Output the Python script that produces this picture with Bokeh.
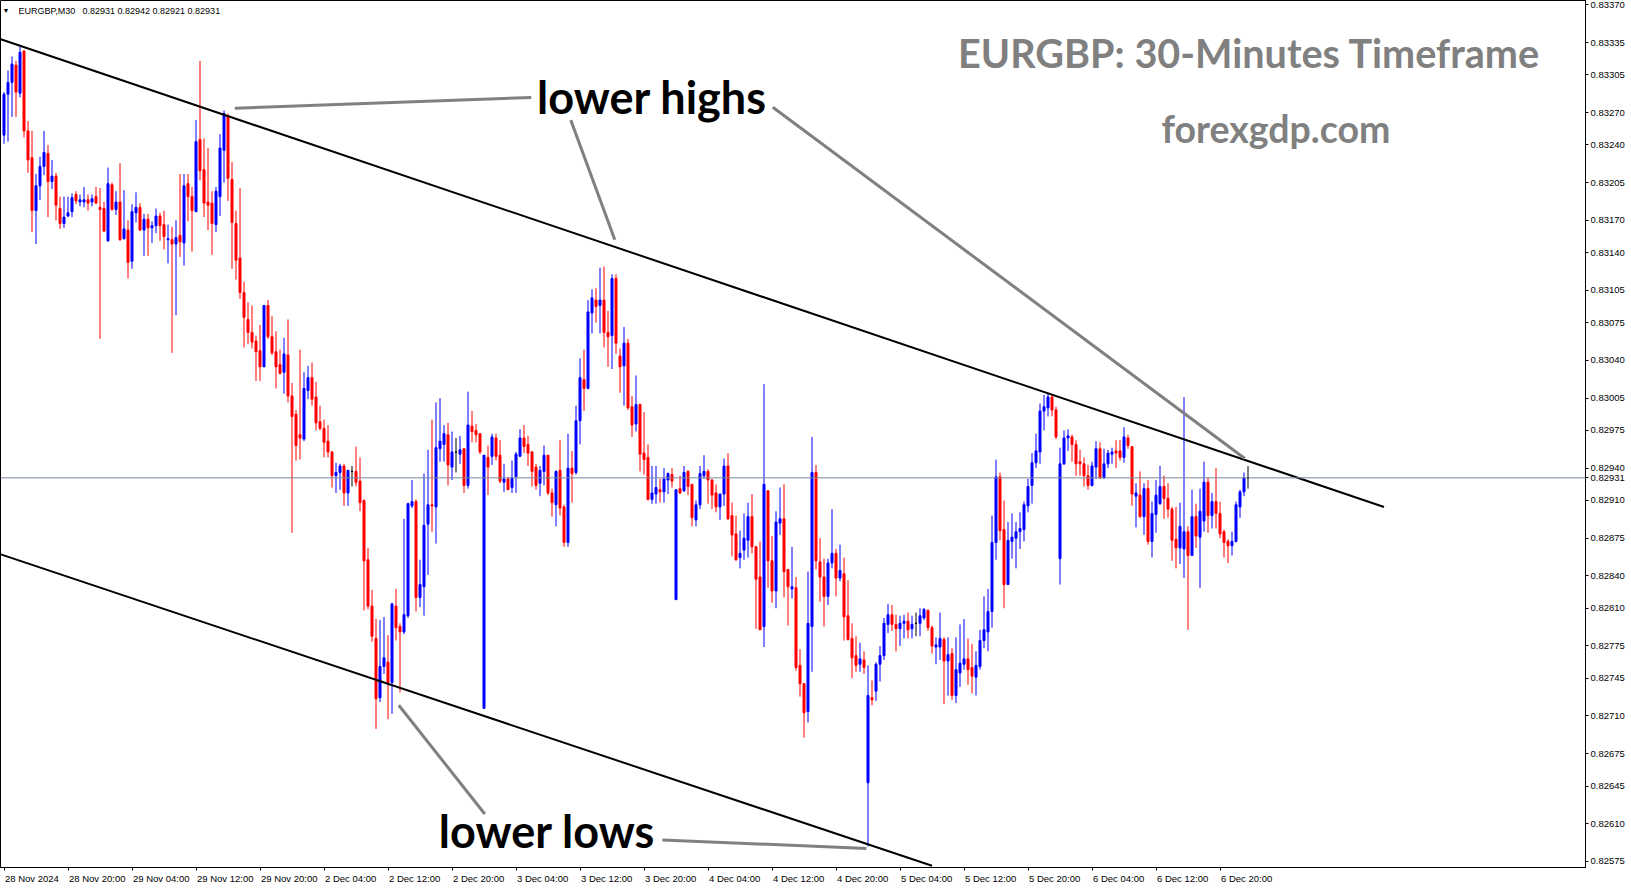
from bokeh.plotting import figure
from bokeh.models import Range1d, FixedTicker, Label, Span, ColumnDataSource, PrintfTickFormatter
from bokeh.embed import file_html
from bokeh.resources import INLINE

SYMBOL = "EURGBP,M30"
PRICE_UNIT = 1e-5  # values below are in 0.00001 units

OPEN = [
    83249, 83287, 83298, 83314, 83288, 83327, 83253, 83228, 83179, 83202,
    83220, 83232, 83206, 83211, 83181, 83167, 83174, 83178, 83194, 83187,
    83187, 83189, 83187, 83192, 83182, 83181, 83151, 83203, 83180, 83187,
    83153, 83161, 83132, 83177, 83182, 83161, 83171, 83163, 83165, 83174,
    83166, 83152, 83152, 83148, 83156, 83149, 83204, 83192, 83178, 83245,
    83217, 83187, 83186, 83166, 83192, 83235, 83267, 83208, 83167, 83135,
    83103, 83078, 83066, 83058, 83049, 83034, 83091, 83062, 83048, 83036,
    83029, 83045, 83007, 82990, 82971, 82967, 83012, 83024, 83006, 82983,
    82977, 82965, 82955, 82933, 82936, 82942, 82917, 82937, 82937, 82928,
    82910, 82855, 82812, 82782, 82727, 82756, 82760, 82741, 82812, 82793,
    82788, 82803, 82905, 82909, 82820, 82830, 82888, 82906, 82904, 82958,
    82962, 82971, 82941, 82955, 82953, 82958, 82924, 82979, 82975, 82972,
    82717, 82950, 82951, 82968, 82952, 82927, 82930, 82922, 82932, 82951,
    82968, 82962, 82955, 82941, 82926, 82937, 82952, 82917, 82906, 82938,
    82904, 82871, 82940, 82936, 82984, 83022, 83014, 83084, 83096, 83091,
    83096, 83066, 83063, 83116, 83044, 83035, 83056, 82997, 82981, 82999,
    82954, 82950, 82911, 82916, 82920, 82918, 82929, 82934, 82818, 82921,
    82919, 82937, 82925, 82892, 82906, 82933, 82937, 82929, 82917, 82904,
    82916, 82942, 82896, 82879, 82857, 82864, 82873, 82895, 82867, 82839,
    82793, 82919, 82854, 82826, 82889, 82893, 82846, 82828, 82829, 82757,
    82740, 82714, 82793, 82936, 82853, 82839, 82821, 82852, 82861, 82838,
    82842, 82803, 82782, 82766, 82758, 82762, 82648, 82727, 82733, 82758,
    82766, 82795, 82804, 82795, 82791, 82796, 82798, 82791, 82796, 82796,
    82801, 82808, 82792, 82774, 82774, 82781, 82761, 82768, 82729, 82750,
    82758, 82763, 82755, 82746, 82756, 82780, 82788, 82807, 82871, 82932,
    82883, 82832, 82872, 82875, 82881, 82883, 82905, 82924, 82945, 82955,
    82993, 82996, 83006, 82994, 82856, 82944, 82968, 82969, 82962, 82946,
    82944, 82933, 82924, 82941, 82958, 82931, 82944, 82953, 82956, 82956,
    82950, 82968, 82960, 82914, 82915, 82895, 82921, 82872, 82897, 82907,
    82923, 82912, 82902, 82874, 82866, 82865, 82881, 82859, 82895, 82876,
    82891, 82927, 82896, 82909, 82898, 82881, 82872, 82868, 82872, 82904,
    82918, 82931,
]
HIGH = [
    83289, 83309, 83322, 83318, 83331, 83328, 83262, 83253, 83213, 83229,
    83253, 83240, 83226, 83214, 83192, 83192, 83192, 83195, 83197, 83194,
    83201, 83194, 83194, 83201, 83200, 83187, 83219, 83205, 83197, 83223,
    83198, 83170, 83185, 83196, 83186, 83176, 83176, 83169, 83181, 83177,
    83179, 83166, 83164, 83170, 83213, 83213, 83213, 83201, 83263, 83318,
    83246, 83237, 83197, 83201, 83250, 83272, 83269, 83224, 83179, 83200,
    83113, 83094, 83091, 83063, 83073, 83091, 83096, 83081, 83067, 83050,
    83061, 83078, 83019, 82994, 83050, 83029, 83035, 83038, 83020, 82998,
    82985, 82980, 82956, 82945, 82944, 82944, 82938, 82942, 82960, 82950,
    82911, 82866, 82827, 82800, 82799, 82802, 82785, 82815, 82828, 82796,
    82893, 82908, 82929, 82911, 82855, 82935, 82957, 82985, 83001, 83005,
    82980, 82982, 82974, 82968, 82970, 82958, 83011, 82993, 82981, 82972,
    82952, 82961, 82972, 82972, 82966, 82944, 82932, 82947, 82955, 82976,
    82980, 82970, 82956, 82944, 82942, 82961, 82952, 82921, 82938, 82966,
    82906, 82972, 82956, 82998, 83042, 83050, 83096, 83106, 83107, 83126,
    83127, 83086, 83120, 83120, 83051, 83071, 83060, 83007, 83026, 83000,
    82992, 82962, 82942, 82942, 82930, 82940, 82936, 82940, 82920, 82933,
    82942, 82938, 82925, 82910, 82942, 82952, 82939, 82930, 82925, 82916,
    82949, 82954, 82908, 82896, 82882, 82898, 82908, 82916, 82868, 82872,
    83018, 82919, 82877, 82900, 82922, 82925, 82846, 82867, 82839, 82772,
    82740, 82844, 82969, 82943, 82875, 82856, 82856, 82902, 82865, 82869,
    82857, 82836, 82796, 82784, 82778, 82770, 82757, 82743, 82760, 82775,
    82801, 82814, 82813, 82804, 82803, 82804, 82806, 82803, 82806, 82810,
    82810, 82809, 82794, 82783, 82806, 82783, 82783, 82773, 82783, 82795,
    82800, 82782, 82777, 82770, 82790, 82821, 82828, 82896, 82948, 82936,
    82910, 82890, 82898, 82890, 82899, 82909, 82930, 82954, 82972, 83000,
    83008, 83010, 83008, 82997, 82959, 82975, 82976, 82971, 82966, 82957,
    82950, 82943, 82946, 82965, 82964, 82958, 82957, 82959, 82966, 82966,
    82978, 82971, 82960, 82926, 82937, 82926, 82929, 82909, 82929, 82942,
    82933, 82926, 82904, 82904, 82908, 83006, 82886, 82920, 82907, 82921,
    82946, 82931, 82917, 82940, 82909, 82883, 82874, 82881, 82909, 82920,
    82936, 82942,
]
LOW = [
    83241, 83243, 83266, 83266, 83284, 83247, 83214, 83159, 83148, 83189,
    83212, 83173, 83199, 83170, 83162, 83163, 83173, 83173, 83185, 83183,
    83182, 83179, 83183, 83185, 83060, 83159, 83150, 83179, 83175, 83151,
    83152, 83116, 83125, 83168, 83160, 83137, 83137, 83149, 83158, 83151,
    83143, 83130, 83047, 83082, 83136, 83128, 83169, 83141, 83178, 83207,
    83173, 83161, 83138, 83159, 83174, 83205, 83188, 83125, 83115, 83097,
    83052, 83055, 83051, 83021, 83021, 83034, 83060, 83045, 83014, 83027,
    83009, 83001, 82880, 82947, 82948, 82965, 83004, 82998, 82975, 82975,
    82950, 82950, 82922, 82917, 82920, 82905, 82905, 82923, 82923, 82900,
    82808, 82809, 82779, 82698, 82723, 82749, 82707, 82712, 82780, 82732,
    82786, 82801, 82903, 82807, 82811, 82803, 82841, 82881, 82870, 82946,
    82946, 82924, 82929, 82936, 82944, 82917, 82921, 82964, 82964, 82953,
    82717, 82915, 82943, 82947, 82926, 82918, 82920, 82917, 82917, 82951,
    82954, 82942, 82923, 82920, 82914, 82924, 82915, 82895, 82886, 82896,
    82867, 82867, 82908, 82934, 82962, 82993, 83013, 83065, 83075, 83065,
    83052, 83034, 83032, 83046, 83010, 82998, 82994, 82969, 82974, 82937,
    82934, 82910, 82907, 82907, 82908, 82908, 82916, 82922, 82818, 82916,
    82918, 82915, 82886, 82886, 82902, 82930, 82907, 82902, 82899, 82892,
    82905, 82892, 82858, 82854, 82847, 82855, 82857, 82861, 82791, 82790,
    82774, 82829, 82815, 82810, 82878, 82820, 82794, 82819, 82752, 82728,
    82690, 82704, 82751, 82846, 82816, 82793, 82813, 82847, 82821, 82835,
    82780, 82780, 82745, 82751, 82751, 82749, 82589, 82720, 82724, 82742,
    82762, 82787, 82789, 82770, 82775, 82782, 82782, 82782, 82784, 82784,
    82799, 82789, 82768, 82758, 82762, 82721, 82729, 82725, 82722, 82737,
    82753, 82739, 82731, 82729, 82753, 82773, 82770, 82792, 82855, 82873,
    82810, 82832, 82856, 82847, 82865, 82872, 82899, 82907, 82940, 82944,
    82975, 82988, 82988, 82967, 82832, 82943, 82956, 82946, 82933, 82933,
    82923, 82920, 82923, 82930, 82930, 82930, 82940, 82944, 82940, 82947,
    82945, 82958, 82905, 82885, 82894, 82878, 82869, 82857, 82880, 82906,
    82893, 82894, 82854, 82847, 82851, 82838, 82790, 82859, 82866, 82829,
    82881, 82880, 82884, 82884, 82875, 82857, 82852, 82859, 82871, 82894,
    82914, 82921,
]
CLOSE = [
    83287, 83298, 83315, 83289, 83326, 83253, 83226, 83179, 83202, 83220,
    83233, 83206, 83211, 83184, 83167, 83173, 83177, 83191, 83188, 83189,
    83189, 83186, 83190, 83186, 83180, 83160, 83204, 83180, 83187, 83152,
    83162, 83131, 83178, 83182, 83161, 83171, 83163, 83165, 83174, 83165,
    83155, 83153, 83148, 83154, 83150, 83202, 83192, 83179, 83243, 83216,
    83186, 83184, 83167, 83197, 83237, 83269, 83209, 83168, 83133, 83103,
    83080, 83066, 83057, 83048, 83034, 83091, 83062, 83047, 83034, 83028,
    83046, 83007, 82988, 82961, 82968, 83014, 83024, 83004, 82982, 82977,
    82964, 82955, 82933, 82936, 82942, 82917, 82938, 82937, 82927, 82908,
    82854, 82812, 82784, 82726, 82756, 82764, 82741, 82814, 82792, 82788,
    82804, 82907, 82909, 82820, 82832, 82887, 82906, 82905, 82959, 82965,
    82972, 82943, 82955, 82955, 82957, 82924, 82980, 82974, 82971, 82955,
    82952, 82941, 82969, 82951, 82928, 82930, 82920, 82931, 82953, 82968,
    82960, 82954, 82937, 82924, 82938, 82952, 82917, 82908, 82937, 82903,
    82871, 82940, 82935, 82984, 83024, 83014, 83085, 83098, 83090, 83096,
    83066, 83062, 83116, 83056, 83034, 83056, 82996, 82980, 82999, 82953,
    82948, 82911, 82917, 82922, 82918, 82930, 82935, 82928, 82920, 82917,
    82936, 82923, 82894, 82906, 82935, 82937, 82929, 82915, 82904, 82916,
    82942, 82893, 82878, 82855, 82861, 82875, 82895, 82867, 82837, 82790,
    82925, 82854, 82826, 82890, 82893, 82844, 82830, 82830, 82755, 82740,
    82713, 82796, 82936, 82854, 82839, 82821, 82852, 82861, 82838, 82845,
    82802, 82781, 82764, 82757, 82763, 82755, 82729, 82725, 82758, 82766,
    82796, 82804, 82795, 82791, 82796, 82798, 82790, 82795, 82796, 82803,
    82809, 82792, 82775, 82776, 82782, 82761, 82767, 82729, 82753, 82759,
    82763, 82753, 82747, 82757, 82780, 82790, 82807, 82871, 82932, 82882,
    82832, 82873, 82876, 82881, 82884, 82906, 82923, 82945, 82956, 82993,
    82997, 83006, 82994, 82969, 82944, 82968, 82970, 82962, 82944, 82944,
    82933, 82924, 82942, 82958, 82931, 82944, 82954, 82955, 82954, 82950,
    82969, 82961, 82916, 82917, 82895, 82921, 82872, 82898, 82915, 82923,
    82912, 82902, 82873, 82866, 82886, 82881, 82859, 82895, 82877, 82900,
    82927, 82896, 82909, 82898, 82879, 82871, 82868, 82872, 82906, 82918,
    82931, 82931,
]

# time axis: bar index of each label (30-minute bars, 16 bars = 8 hours)
TIME_TICKS = [0, 16, 32, 48, 64, 80, 96, 112, 128, 144, 160,
              176, 192, 208, 224, 240, 256, 272, 288, 304]
TIME_LABELS = ["28 Nov 2024", "28 Nov 20:00", "29 Nov 04:00", "29 Nov 12:00", "29 Nov 20:00",
               "2 Dec 04:00", "2 Dec 12:00", "2 Dec 20:00", "3 Dec 04:00",
               "3 Dec 12:00", "3 Dec 20:00", "4 Dec 04:00", "4 Dec 12:00",
               "4 Dec 20:00", "5 Dec 04:00", "5 Dec 12:00", "5 Dec 20:00",
               "6 Dec 04:00", "6 Dec 12:00", "6 Dec 20:00"]
PRICE_TICKS = [0.83370, 0.83335, 0.83305, 0.83270, 0.83240, 0.83205, 0.83170,
               0.83140, 0.83105, 0.83075, 0.83040, 0.83005, 0.82975, 0.82940,
               0.82910, 0.82875, 0.82840, 0.82810, 0.82775, 0.82745, 0.82710,
               0.82675, 0.82645, 0.82610, 0.82575]

# drawn analysis objects, anchored at (bar index, price)
UPPER_TREND_BAR = [-0.8, 345.0]
UPPER_TREND_PRICE = [0.83338, 0.82904]
LOWER_TREND_BAR = [-0.8, 232.0]
LOWER_TREND_PRICE = [0.82860, 0.82571]
POINTER_BARS = [[57.7, 131.8], [141.7, 152.7], [192.2, 310.2], [98.7, 120.2], [164.6, 215.6]]
POINTER_PRICES = [[0.83274, 0.83284], [0.83263, 0.83152], [0.83275, 0.82949],
                  [0.82720, 0.82619], [0.82595, 0.82587]]

TITLE = "EURGBP: 30-Minutes Timeframe"
SITE = "forexgdp.com"
NOTE_HIGHS = "lower highs"
NOTE_LOWS = "lower lows"

# ---------------- layout ----------------
W, H = 1631, 888
RIGHT_BORDER, BOTTOM_BORDER = 46, 21
BAR_PX = 4.0
FRAME_W = W - RIGHT_BORDER
FRAME_H = H - BOTTOM_BORDER
X_START = -0.875
X_END = X_START + FRAME_W / BAR_PX
Y_START, Y_END = 0.825694, 0.833740

BULL, BEAR, DOJI = "#0000ff", "#ff0000", "#000000"
AXIS_FONT = "Liberation Sans"
AXIS_FONT_PX = 9.5

# Arial / Liberation Sans advance widths (1/1000 em) for the time-label characters
ADV = {ch: 556 for ch in "0123456789"}
ADV.update({" ": 278, ":": 278, "N": 722, "o": 556, "v": 500, "D": 722, "e": 556, "c": 500})


def text_px(s):
    return sum(ADV.get(ch, 556) for ch in s) / 1000.0 * AXIS_FONT_PX


idx = list(range(len(OPEN)))
o = [v * PRICE_UNIT for v in OPEN]
h = [v * PRICE_UNIT for v in HIGH]
l = [v * PRICE_UNIT for v in LOW]
c = [v * PRICE_UNIT for v in CLOSE]
col = [BULL if cc > oo else (BEAR if cc < oo else DOJI) for oo, cc in zip(OPEN, CLOSE)]
last_price = round(c[-1], 5)

src = ColumnDataSource(dict(
    x=idx, high=h, low=l,
    top=[max(a, b) for a, b in zip(o, c)],
    bottom=[min(a, b) for a, b in zip(o, c)],
    color=col,
))

p = figure(width=W, height=H, output_backend="svg", toolbar_location=None,
           x_range=Range1d(X_START, X_END), y_range=Range1d(Y_START, Y_END),
           x_axis_location="below", y_axis_location="right",
           min_border_left=0, min_border_top=0,
           min_border_right=RIGHT_BORDER, min_border_bottom=BOTTOM_BORDER)
p.background_fill_color = "white"
p.border_fill_color = "white"
p.outline_line_color = "black"
p.outline_line_width = 1
p.xgrid.visible = False
p.ygrid.visible = False

p.segment(x0="x", y0="low", x1="x", y1="high", line_color="color", line_width=1, source=src)
p.vbar(x="x", width=0.5, top="top", bottom="bottom", fill_color="color",
       line_color="color", line_width=1, source=src)

p.add_layout(Span(location=last_price, dimension="width", line_color="#778899", line_width=1))

p.line(UPPER_TREND_BAR, UPPER_TREND_PRICE, line_color="black", line_width=2)
p.line(LOWER_TREND_BAR, LOWER_TREND_PRICE, line_color="black", line_width=2)
p.multi_line(POINTER_BARS, POINTER_PRICES, line_color="#808080", line_width=3)

# x axis: tick marks at the bar of each label, labels drawn starting at the mark
label_centers = [round(t + (text_px(s) / 2 + 1) / BAR_PX, 4) for t, s in zip(TIME_TICKS, TIME_LABELS)]
xa = p.xaxis[0]
xa.ticker = FixedTicker(ticks=label_centers, minor_ticks=TIME_TICKS)
xa.major_label_overrides = {cx: s for cx, s in zip(label_centers, TIME_LABELS)}
xa.major_tick_out = 3
xa.major_tick_in = 0
xa.major_tick_line_color = None
xa.minor_tick_out = 3
xa.minor_tick_in = 0
xa.minor_tick_line_color = "black"
xa.axis_line_color = "black"
xa.major_label_standoff = 2
xa.major_label_text_font = AXIS_FONT
xa.major_label_text_font_size = f"{AXIS_FONT_PX}px"
xa.major_label_text_color = "black"

# y axis: price scale plus the current price
ya = p.yaxis[0]
ya.ticker = FixedTicker(ticks=PRICE_TICKS + [last_price])
ya.formatter = PrintfTickFormatter(format="%.5f")
ya.major_tick_out = 3
ya.major_tick_in = 0
ya.minor_tick_line_color = None
ya.axis_line_color = "black"
ya.major_tick_line_color = "black"
ya.major_label_standoff = 2
ya.major_label_text_font = AXIS_FONT
ya.major_label_text_font_size = f"{AXIS_FONT_PX}px"
ya.major_label_text_color = "black"


def frame_label(px, py, text, **kw):
    # px: pixels from the frame's left edge; py: pixels from the frame's top edge
    return Label(x=px, y=FRAME_H - py, x_units="screen", y_units="screen", text=text, **kw)


# header line
p.add_layout(frame_label(2, 10, "\u25bc", text_font_size="7px", text_color="black",
                         text_baseline="middle"))
p.add_layout(frame_label(18, 10, SYMBOL, text_font=AXIS_FONT, text_font_size="9px",
                         text_color="black", text_baseline="middle"))
p.add_layout(frame_label(82, 10, f"{o[-1]:.5f} {h[-1]:.5f} {l[-1]:.5f} {c[-1]:.5f}",
                         text_font=AXIS_FONT, text_font_size="9px", text_color="black",
                         text_baseline="middle"))

# titles / notes
p.add_layout(frame_label(1248.7, 51.5, TITLE, text_font="Lato", text_font_style="bold",
                         text_font_size="39.6px", text_color="#808080", text_align="center",
                         text_baseline="middle"))
p.add_layout(frame_label(1275.5, 127.5, SITE, text_font="Lato", text_font_style="bold",
                         text_font_size="37.5px", text_color="#808080", text_align="center",
                         text_baseline="middle"))
p.add_layout(frame_label(651.5, 96, NOTE_HIGHS, text_font="Lato", text_font_style="bold",
                         text_font_size="45px", text_color="black", text_align="center",
                         text_baseline="middle"))
p.add_layout(frame_label(546.5, 830, NOTE_LOWS, text_font="Lato", text_font_style="bold",
                         text_font_size="45px", text_color="black", text_align="center",
                         text_baseline="middle"))

open("out.html", "w").write(file_html(p, INLINE))
